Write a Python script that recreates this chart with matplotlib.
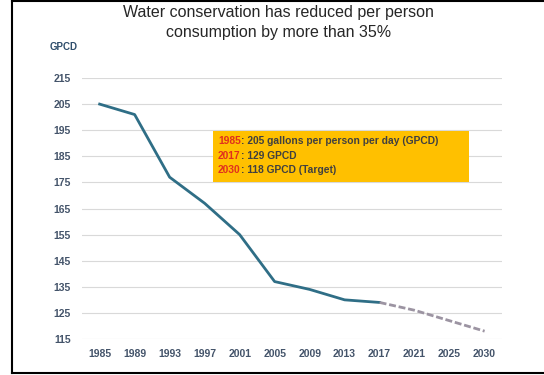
import matplotlib.pyplot as plt
from matplotlib.patches import Rectangle
from matplotlib.lines import Line2D

plt.rcParams['font.family'] = ['Liberation Sans', 'DejaVu Sans']

years = ['1985', '1989', '1993', '1997', '2001', '2005', '2009', '2013',
         '2017', '2021', '2025', '2030']
gpcd_actual = [205, 201, 177, 167, 155, 137, 134, 130, 129]
gpcd_target = [129, 126, 122, 118]
yticks = [115, 125, 135, 145, 155, 165, 175, 185, 195, 205, 215]
notes = [('1985', ': 205 gallons per person per day (GPCD)'),
         ('2017', ': 129 GPCD'),
         ('2030', ': 118 GPCD (Target)')]

fig = plt.figure(figsize=(5.44, 3.75), dpi=100)
ax = fig.add_axes([0.151, 0.096, 0.772, 0.696])

x = list(range(len(years)))
ax.plot(x[:len(gpcd_actual)], gpcd_actual, color='#2F6E86', lw=2)
ax.plot(x[len(gpcd_actual) - 1:], gpcd_target, color='#9C94A2', lw=2,
        dashes=(2.5, 1.0))

ax.set_xlim(-0.5, 11.5)
ax.set_ylim(115, 215)
ax.set_xticks(x)
ax.set_xticklabels(years)
ax.set_yticks(yticks)
ax.yaxis.grid(True, color='#D9D9D9', lw=0.8)
ax.set_axisbelow(True)
for s in ax.spines.values():
    s.set_visible(False)
ax.tick_params(length=0, labelsize=7.5, labelcolor='#44546A')
ax.tick_params(axis='x', pad=7)
ax.tick_params(axis='y', pad=8)
for lbl in ax.get_xticklabels() + ax.get_yticklabels():
    lbl.set_fontweight('bold')

# yellow callout box
ax.add_patch(Rectangle((3.24, 175.2), 7.3, 19.5, facecolor='#FFC000',
                       edgecolor='none', zorder=3))
for i, (yr, txt) in enumerate(notes):
    t = ax.text(3.38, 190.8 - i * 5.6, yr, color='#E0301E', fontsize=7.4,
                fontweight='bold', va='center', zorder=4)
    ax.annotate(txt, xy=(1, 0.5), xycoords=t, va='center', color='#404040',
                fontsize=7.4, fontweight='bold', zorder=4)

fig.text(0.512, 0.968, 'Water conservation has reduced per person',
         ha='center', va='center', fontsize=11.5, color='#262626')
fig.text(0.512, 0.913, 'consumption by more than 35%',
         ha='center', va='center', fontsize=11.5, color='#262626')
fig.text(0.092, 0.875, 'GPCD', ha='left', va='center', fontsize=7,
         fontweight='bold', color='#2E4D6B')

# outer frame of the slide
fig.add_artist(Line2D([0.022, 0.022], [0.005, 0.997], color='black', lw=1.5))
fig.add_artist(Line2D([0.022, 1.0], [0.997, 0.997], color='black', lw=1.5))
fig.add_artist(Line2D([0.022, 1.0], [0.005, 0.005], color='black', lw=1.5))

fig.savefig('out.png', dpi=100)
